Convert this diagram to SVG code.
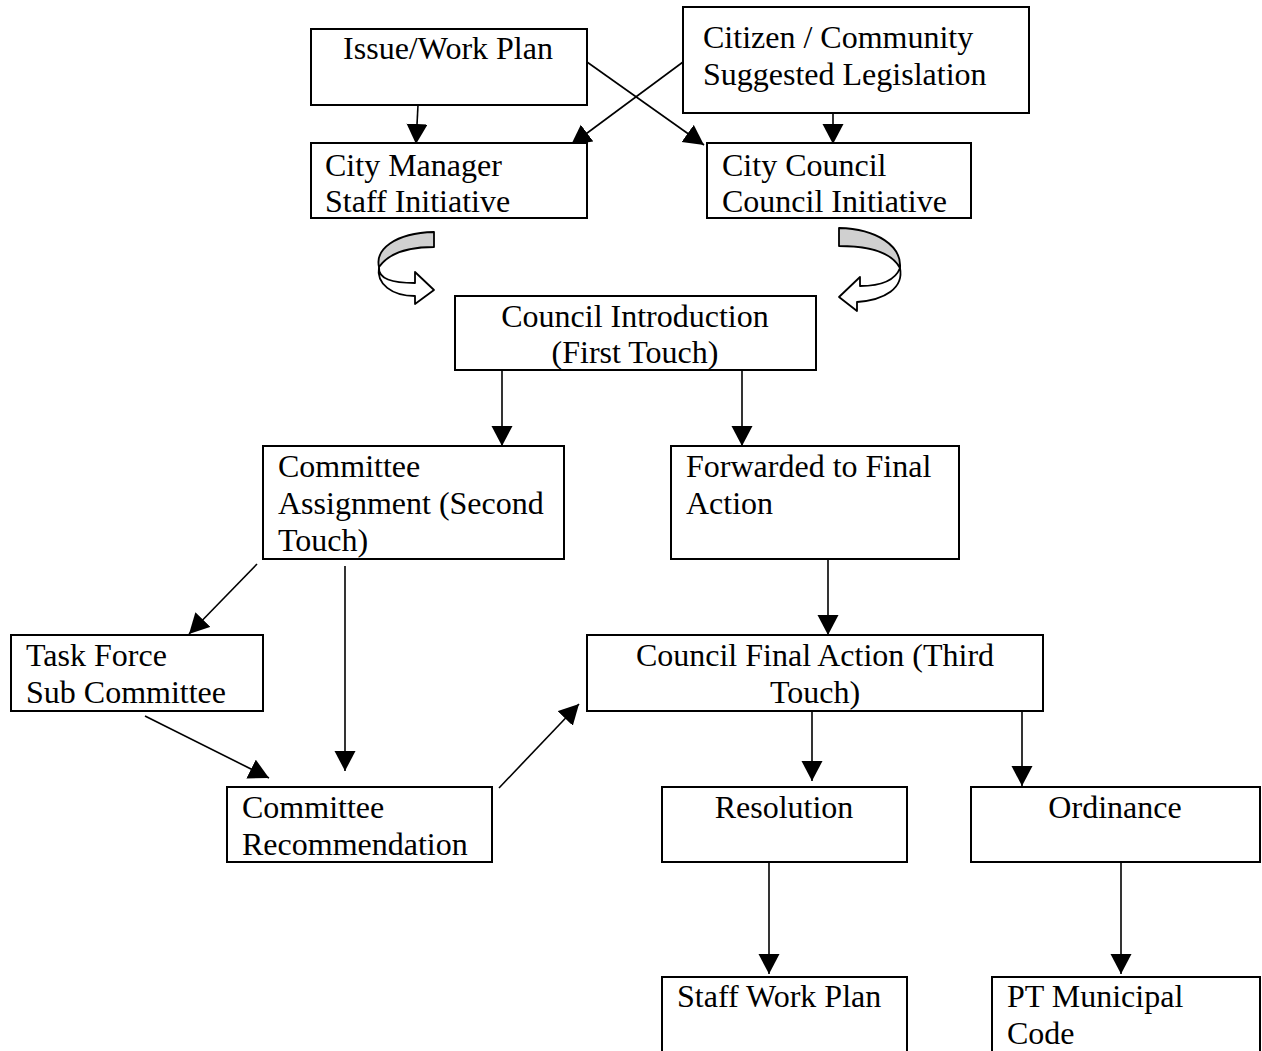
<svg xmlns="http://www.w3.org/2000/svg" width="1262" height="1051" viewBox="0 0 1262 1051">
<style>
.box{fill:#fff;stroke:#000;stroke-width:2}
.t{font-family:"Liberation Serif","Times New Roman",serif;font-size:32px;fill:#000}
.c{text-anchor:middle}
.ln{stroke:#000;stroke-width:1.6;fill:none;marker-end:url(#ah)}
.curl{stroke:#000;stroke-width:1.8;stroke-linejoin:round}
</style>
<defs>
<marker id="ah" markerUnits="userSpaceOnUse" markerWidth="22" markerHeight="22" refX="20" refY="10.5" orient="auto">
<path d="M0,0 L20,10.5 L0,21 z" fill="#000"/>
</marker>
</defs>
<rect width="1262" height="1051" fill="#fff"/>

<g id="connectors">
<line class="ln" x1="418" y1="105" x2="416" y2="144"/>
<line class="ln" x1="587" y1="62" x2="704" y2="145"/>
<line class="ln" x1="683" y1="62" x2="571" y2="145"/>
<line class="ln" x1="833" y1="113" x2="833" y2="144"/>
<line class="ln" x1="502" y1="370" x2="502" y2="446"/>
<line class="ln" x1="742" y1="370" x2="742" y2="446"/>
<line class="ln" x1="257" y1="564" x2="189" y2="634"/>
<line class="ln" x1="345" y1="566" x2="345" y2="771"/>
<line class="ln" x1="145" y1="716" x2="269" y2="778"/>
<line class="ln" x1="499" y1="788" x2="579" y2="704"/>
<line class="ln" x1="828" y1="559" x2="828" y2="635"/>
<line class="ln" x1="812" y1="711" x2="812" y2="781"/>
<line class="ln" x1="1022" y1="711" x2="1022" y2="786"/>
<line class="ln" x1="769" y1="863" x2="769" y2="974"/>
<line class="ln" x1="1121" y1="862" x2="1121" y2="974"/>
<g id="curl-left">
<path class="curl" fill="#d0d0d0" d="M434,232 L434,247 C410,247 389,253 379,267 C375,250 394,233 434,232 Z"/>
<path class="curl" fill="#fff" d="M379,267 C378,279 392,283 415,283 L415,272 L434,290 L415,304 L415,296 C392,296 376,284 379,267 Z"/>
</g>
<g id="curl-right">
<path class="curl" fill="#d0d0d0" d="M839,228 C877,229 902,246 900,268 C892,253 870,246 839,246 Z"/>
<path class="curl" fill="#fff" d="M900,268 C895,281 880,286 860,286 L860,277 L839,297 L857,311 L857,302 C885,300 904,288 900,268 Z"/>
</g>
</g>

<g id="issue-work-plan">
<rect class="box" x="311" y="29" width="276" height="76"/>
<text class="t c" x="448" y="59">Issue/Work Plan</text>
</g>
<g id="citizen-community">
<rect class="box" x="683" y="7" width="346" height="106"/>
<text class="t" x="703" y="48">Citizen / Community</text>
<text class="t" x="703" y="85">Suggested Legislation</text>
</g>
<g id="city-manager">
<rect class="box" x="311" y="143" width="276" height="75"/>
<text class="t" x="325" y="176">City Manager</text>
<text class="t" x="325" y="212">Staff Initiative</text>
</g>
<g id="city-council">
<rect class="box" x="707" y="143" width="264" height="75"/>
<text class="t" x="722" y="176">City Council</text>
<text class="t" x="722" y="212">Council Initiative</text>
</g>
<g id="council-introduction">
<rect class="box" x="455" y="296" width="361" height="74"/>
<text class="t c" x="635" y="327">Council Introduction</text>
<text class="t c" x="635" y="363">(First Touch)</text>
</g>
<g id="committee-assignment">
<rect class="box" x="263" y="446" width="301" height="113"/>
<text class="t" x="278" y="477">Committee</text>
<text class="t" x="278" y="514">Assignment (Second</text>
<text class="t" x="278" y="551">Touch)</text>
</g>
<g id="forwarded-final-action">
<rect class="box" x="671" y="446" width="288" height="113"/>
<text class="t" x="686" y="477">Forwarded to Final</text>
<text class="t" x="686" y="514">Action</text>
</g>
<g id="task-force">
<rect class="box" x="11" y="635" width="252" height="76"/>
<text class="t" x="26" y="666">Task Force</text>
<text class="t" x="26" y="703">Sub Committee</text>
</g>
<g id="council-final-action">
<rect class="box" x="587" y="635" width="456" height="76"/>
<text class="t c" x="815" y="666">Council Final Action (Third</text>
<text class="t c" x="815" y="703">Touch)</text>
</g>
<g id="committee-recommendation">
<rect class="box" x="227" y="787" width="265" height="75"/>
<text class="t" x="242" y="818">Committee</text>
<text class="t" x="242" y="855">Recommendation</text>
</g>
<g id="resolution">
<rect class="box" x="662" y="787" width="245" height="75"/>
<text class="t c" x="784" y="818">Resolution</text>
</g>
<g id="ordinance">
<rect class="box" x="971" y="787" width="289" height="75"/>
<text class="t c" x="1115" y="818">Ordinance</text>
</g>
<g id="staff-work-plan">
<rect class="box" x="662" y="977" width="245" height="90"/>
<text class="t" x="677" y="1007">Staff Work Plan</text>
</g>
<g id="pt-municipal-code">
<rect class="box" x="992" y="977" width="268" height="90"/>
<text class="t" x="1007" y="1007">PT Municipal</text>
<text class="t" x="1007" y="1044">Code</text>
</g>
</svg>
